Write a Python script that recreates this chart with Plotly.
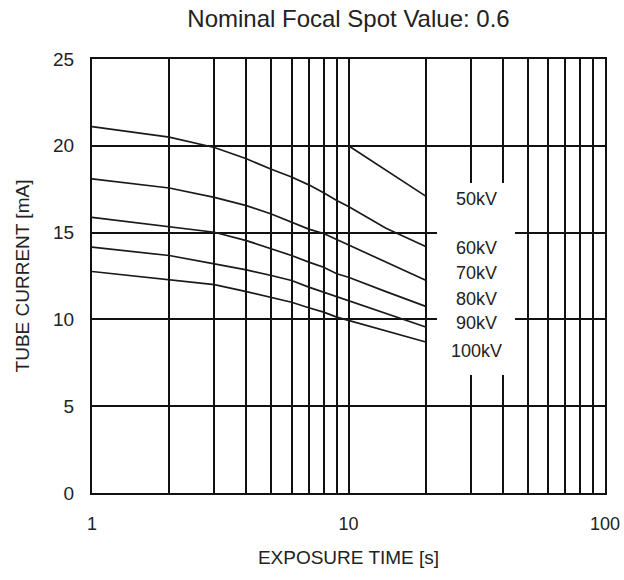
"""Tube current vs exposure time chart for a 0.6 focal spot."""
import numpy as np
import plotly.graph_objects as go

exposure_s = [1, 2, 3, 4, 5, 6, 7, 8, 9, 10, 14, 20]
exposure_50kv = [10, 12, 14, 16, 18, 20]

current_50kv = [20.0, 19.25, 18.6, 18.05, 17.55, 17.1]
current_60kv = [21.1, 20.5, 19.9, 19.25, 18.65, 18.2, 17.75, 17.3, 16.85, 16.5, 15.25, 14.2]
current_70kv = [18.1, 17.57, 17.03, 16.55, 16.07, 15.62, 15.2, 14.95, 14.6, 14.3, 13.3, 12.25]
current_80kv = [15.88, 15.34, 15.02, 14.54, 14.06, 13.68, 13.3, 13.0, 12.63, 12.43, 11.6, 10.75]
current_90kv = [14.16, 13.68, 13.2, 12.85, 12.53, 12.24, 11.86, 11.57, 11.28, 11.09, 10.35, 9.56]
current_100kv = [12.76, 12.28, 12.0, 11.6, 11.28, 10.99, 10.67, 10.42, 10.13, 9.94, 9.34, 8.7]

kv_labels = ["50kV", "60kV", "70kV", "80kV", "90kV", "100kV"]
label_current = [16.95, 14.1, 12.65, 11.2, 9.77, 8.2]
label_time = 31.6

x_ticks = [1, 10, 100]
x_minor = [2, 3, 4, 5, 6, 7, 8, 9, 20, 30, 40, 50, 60, 70, 80, 90]

FONT = "Liberation Sans, Arial, sans-serif"
TEXT = "#222222"
GRID = "#111111"

curve_style = {
    "mode": "lines",
    "line": {"color": "#1a1a1a", "width": 1.7},
    "hoverinfo": "skip",
    "showlegend": False,
}

fig = go.Figure()
fig.add_trace(go.Scatter(x=exposure_50kv, y=current_50kv, **curve_style))
for ys in [current_60kv, current_70kv, current_80kv, current_90kv, current_100kv]:
    fig.add_trace(go.Scatter(x=exposure_s, y=ys, **curve_style))

# white box behind the kV labels, hiding the grid
fig.add_shape(
    type="rect",
    xref="paper",
    yref="paper",
    x0=0.6725,
    x1=0.8246,
    y0=0.272,
    y1=0.714,
    fillcolor="white",
    line={"width": 0},
    layer="above",
)
for label, yv in zip(kv_labels, label_current):
    fig.add_annotation(
        x=np.log10(label_time),
        y=yv,
        text=label,
        showarrow=False,
        font={"family": FONT, "size": 18, "color": TEXT},
    )

fig.update_layout(
    width=624,
    height=580,
    margin={"l": 92, "r": 19, "t": 59, "b": 87, "autoexpand": False},
    paper_bgcolor="white",
    plot_bgcolor="white",
    title={
        "text": "Nominal Focal Spot Value: 0.6",
        "x": 0.5,
        "xref": "paper",
        "y": 1 - 19 / 580,
        "yref": "container",
        "yanchor": "middle",
        "font": {"family": FONT, "size": 24, "color": TEXT},
    },
    font={"family": FONT, "color": TEXT},
)
fig.update_xaxes(
    type="log",
    range=[0, 2],
    automargin=False,
    tickmode="array",
    tickvals=x_ticks,
    ticktext=[str(v) for v in x_ticks],
    ticks="",
    ticklabelstandoff=13,
    tickfont={"size": 18},
    showgrid=True,
    gridcolor=GRID,
    gridwidth=2,
    minor={"tickvals": x_minor, "showgrid": True, "gridcolor": GRID, "gridwidth": 2, "ticks": ""},
    showline=True,
    mirror=True,
    linecolor=GRID,
    linewidth=2,
    zeroline=False,
    title={"text": "EXPOSURE TIME [s]", "font": {"size": 19}, "standoff": 18},
)
fig.update_yaxes(
    range=[0, 25],
    automargin=False,
    dtick=5,
    ticks="",
    ticklabelstandoff=12,
    tickfont={"size": 19},
    showgrid=True,
    gridcolor=GRID,
    gridwidth=2,
    showline=True,
    mirror=True,
    linecolor=GRID,
    linewidth=2,
    zeroline=False,
    title={"text": "TUBE CURRENT [mA]", "font": {"size": 19}, "standoff": 18},
)

# drop the default 8px page margin so the figure fills the window exactly
fig.write_html(
    "out.html",
    config={"displayModeBar": False},
    post_script="document.body.style.margin = '0';",
)
